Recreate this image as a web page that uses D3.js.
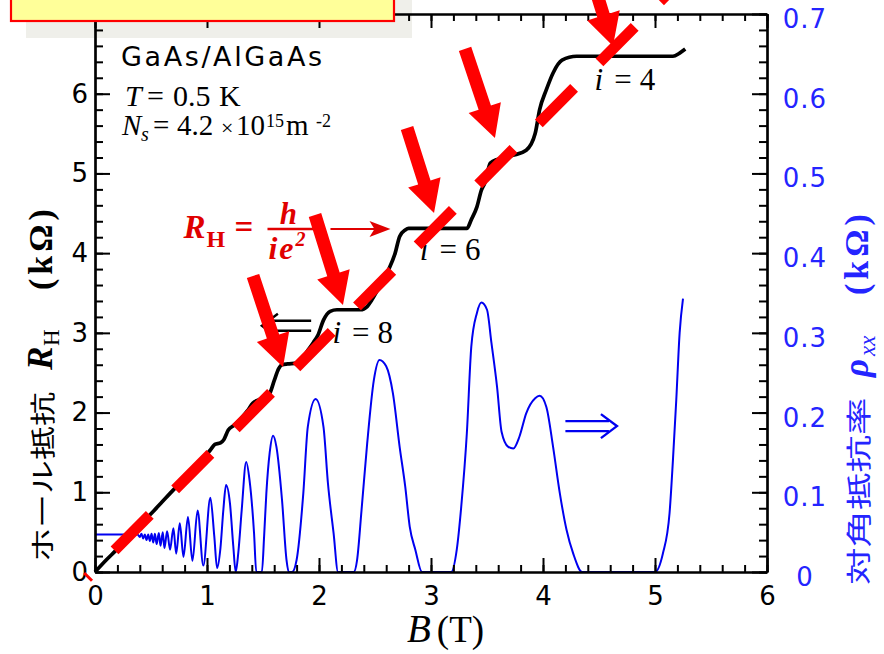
<!DOCTYPE html>
<html><head><meta charset="utf-8">
<script src="https://cdn.jsdelivr.net/npm/d3@7"></script>
<style>body{margin:0;background:#fff}svg{display:block}</style>
</head><body>
<svg id="chart" width="884" height="654"></svg>
<script>
// ---------- data ----------
const xTickValues = [0,1,2,3,4,5,6];
const xTickLabels = ["0","1","2","3","4","5","6"];
const leftTickValues = [0,1,2,3,4,5,6];
const leftTickLabels = ["0","1","2","3","4","5","6"];
const rightTickValues = [0,0.1,0.2,0.3,0.4,0.5,0.6,0.7];
const rightTickLabels = ["0","0.1","0.2","0.3","0.4","0.5","0.6","0.7"];

// Hall resistance R_H (kOhm) vs B (T)
const hallCurve = [[0,0],[0.1,0.15],[0.2,0.29],[0.3,0.44],[0.4,0.59],[0.5,0.73],[0.6,0.88],[0.7,1.03],[0.8,1.17],[0.9,1.32],[0.97,1.43],[1.03,1.53],[1.07,1.60],[1.12,1.62],[1.15,1.66],[1.19,1.78],[1.24,1.84],[1.3,1.92],[1.36,2.02],[1.41,2.12],[1.46,2.16],[1.52,2.19],[1.56,2.24],[1.6,2.40],[1.64,2.55],[1.67,2.60],[1.72,2.61],[1.8,2.62],[1.85,2.68],[1.9,2.78],[1.95,2.88],[1.99,2.97],[2.04,3.16],[2.1,3.27],[2.16,3.29],[2.37,3.29],[2.43,3.33],[2.47,3.41],[2.54,3.58],[2.62,3.79],[2.68,4.00],[2.72,4.21],[2.77,4.29],[2.8,4.31],[3.32,4.31],[3.36,4.42],[3.41,4.58],[3.45,4.79],[3.48,4.88],[3.53,5.13],[3.6,5.18],[3.74,5.23],[3.85,5.29],[3.93,5.50],[3.97,5.80],[4.03,6.05],[4.09,6.26],[4.17,6.42],[4.3,6.47],[5.16,6.47],[5.22,6.51],[5.27,6.56]];

// diagonal resistivity rho_xx (kOhm) vs B (T)
const rhoCurve = [[0,0.047],[0.38,0.047],[0.40,0.044],[0.415,0.048],[0.43,0.042],[0.445,0.047],[0.46,0.040],[0.475,0.047],[0.49,0.039],[0.505,0.048],[0.52,0.037],[0.535,0.048],[0.55,0.035],[0.57,0.049],[0.585,0.033],[0.605,0.050],[0.62,0.030],[0.644,0.051],[0.67,0.028],[0.70,0.055],[0.725,0.023],[0.757,0.061],[0.79,0.019],[0.83,0.069],[0.87,0.014],[0.916,0.077],[0.967,0.008],[1.03,0.093],[1.065,0.045],[1.09,0.005],[1.12,0.030],[1.146,0.078],[1.17,0.109],[1.205,0.086],[1.235,0.032],[1.256,0],[1.28,0.025],[1.31,0.078],[1.35,0.138],[1.38,0.115],[1.42,0.049],[1.44,0],[1.49,0],[1.51,0.045],[1.53,0.099],[1.56,0.150],[1.59,0.171],[1.62,0.157],[1.67,0.090],[1.71,0.015],[1.73,0],[1.76,0],[1.80,0.015],[1.86,0.099],[1.90,0.182],[1.97,0.217],[2.04,0.182],[2.08,0.111],[2.13,0.049],[2.17,0],[2.31,0],[2.34,0.015],[2.38,0.078],[2.43,0.161],[2.49,0.241],[2.54,0.266],[2.60,0.258],[2.66,0.224],[2.72,0.157],[2.77,0.107],[2.81,0.057],[2.86,0.028],[2.92,0],[3.18,0],[3.23,0.028],[3.27,0.082],[3.32,0.174],[3.36,0.283],[3.41,0.325],[3.45,0.338],[3.50,0.329],[3.54,0.287],[3.59,0.232],[3.63,0.176],[3.69,0.157],[3.735,0.155],[3.79,0.170],[3.85,0.199],[3.93,0.218],[3.97,0.221],[4.03,0.207],[4.09,0.157],[4.15,0.099],[4.21,0.053],[4.27,0.023],[4.35,0],[5.0,0],[5.07,0.023],[5.13,0.074],[5.16,0.14],[5.19,0.216],[5.22,0.30],[5.25,0.343]];

// red dashed guide line (B, R_H)
const redLine = [[-0.071,-0.075],[5.3,7.52]];
// red arrows: tail and tip (B, R_H)
const arrowTails = [[1.411,3.714],[1.964,4.479],[2.786,5.571],[3.304,6.562],[4.375,7.729]];
const arrowTips  = [[1.679,2.572],[2.214,3.350],[3.027,4.504],[3.571,5.445],[4.625,6.600]];
// filling-factor labels
const plateauLabels = [{i:"4",B:4.46,R:6.05},{i:"6",B:2.90,R:3.91},{i:"8",B:2.12,R:2.87}];

// ---------- setup ----------
const svg = d3.select("#chart");
const L=95, R=767, T=14, Bt=572;
const x = d3.scaleLinear().domain([0,6]).range([L,R]);
const yL = d3.scaleLinear().domain([0,7]).range([Bt,T]);
const yR = d3.scaleLinear().domain([0,0.7]).range([Bt,T]);
const BLUE="#0000f0", BLUE_T="#2424ff", RED="#ff0000";
const SANS="'DejaVu Sans', sans-serif", SERIF="'Liberation Serif','DejaVu Serif',serif", CJK="'Noto Sans CJK JP',sans-serif";

// background band from original slide
svg.append("rect").attr("x",26).attr("y",0).attr("width",386).attr("height",38).attr("fill","#efefea");

// ---------- curves ----------
const lineL = d3.line().x(d=>x(d[0])).y(d=>yL(d[1])).curve(d3.curveMonotoneX);
const lineR = d3.line().x(d=>x(d[0])).y(d=>yR(d[1])).curve(d3.curveMonotoneX);
svg.append("path").datum(rhoCurve).attr("d",lineR).attr("fill","none").attr("stroke",BLUE).attr("stroke-width",2);
svg.append("path").datum(hallCurve).attr("d",lineL).attr("fill","none").attr("stroke","#000").attr("stroke-width",3.7).attr("stroke-linejoin","round");

// ---------- axes ----------
function styleAxis(g){ g.selectAll("path.domain").attr("stroke","#000").attr("stroke-width",2.2);
  g.selectAll(".tick line").attr("stroke","#000").attr("stroke-width",2); }
const minorX = d3.range(0,6.001,0.2), minorY = d3.range(0,7.001,0.2), minorR = d3.range(0,0.7001,0.02);

let g = svg.append("g").attr("transform",`translate(0,${Bt})`).call(d3.axisBottom(x).tickValues(minorX).tickSize(-7).tickSizeOuter(0).tickFormat(""));
styleAxis(g);
g = svg.append("g").attr("transform",`translate(0,${Bt})`).call(d3.axisBottom(x).tickValues(xTickValues).tickSize(-14).tickSizeOuter(0).tickPadding(15).tickFormat((d,i)=>xTickLabels[i]));
styleAxis(g);
g.selectAll("text").attr("font-family",SANS).attr("font-size",26).attr("fill","#000");
g = svg.append("g").attr("transform",`translate(0,${T})`).call(d3.axisTop(x).tickValues(minorX).tickSize(-7).tickSizeOuter(0).tickFormat(""));
styleAxis(g);
g = svg.append("g").attr("transform",`translate(0,${T})`).call(d3.axisTop(x).tickValues(xTickValues).tickSize(-14).tickSizeOuter(0).tickFormat(""));
styleAxis(g);
g = svg.append("g").attr("transform",`translate(${L},0)`).call(d3.axisLeft(yL).tickValues(minorY).tickSize(-8).tickSizeOuter(0).tickFormat(""));
styleAxis(g);
g = svg.append("g").attr("transform",`translate(${L},0)`).call(d3.axisLeft(yL).tickValues(leftTickValues).tickSize(-15).tickSizeOuter(0).tickPadding(7).tickFormat((d,i)=>leftTickLabels[i]));
styleAxis(g);
g.selectAll("text").attr("font-family",SANS).attr("font-size",26).attr("fill","#000");
g = svg.append("g").attr("transform",`translate(${R},0)`).call(d3.axisRight(yR).tickValues(minorR).tickSize(-8).tickSizeOuter(0).tickFormat(""));
styleAxis(g);
g = svg.append("g").attr("transform",`translate(${R},0)`).call(d3.axisRight(yR).tickValues(rightTickValues).tickSize(-15).tickSizeOuter(0).tickPadding(38).tickFormat((d,i)=>rightTickLabels[i]));
styleAxis(g);
g.selectAll("text").attr("font-family",SANS).attr("font-size",26).attr("fill",BLUE_T).attr("text-anchor","middle").attr("letter-spacing",1).attr("dy","0.52em");

// ---------- axis titles ----------
const xt = svg.append("text").attr("x",407).attr("y",642).attr("font-family",SERIF).attr("font-size",37);
xt.append("tspan").attr("font-style","italic").attr("font-size",39).text("B");
xt.append("tspan").attr("dx",6).text("(T)");

function vTitle(xBase, yStart, color, cjk, sym, sub, subItalic, cfg){
  const gg = svg.append("g").attr("transform",`translate(${xBase},${yStart}) rotate(-90)`).attr("fill",color);
  gg.append("text").attr("transform",`scale(${cfg.cjkScale},1)`).attr("font-family",CJK).attr("font-size",25).text(cjk);
  gg.append("text").attr("x",cfg.symAt).attr("font-family",SERIF).attr("font-size",35).attr("font-style","italic").attr("font-weight","bold").text(sym);
  gg.append("text").attr("x",cfg.subAt).attr("y",7).attr("font-family",SERIF).attr("font-size",23).attr("font-style",subItalic?"italic":"normal").text(sub);
  gg.append("text").attr("x",cfg.unitAt).attr("font-family",SERIF).attr("font-size",34).attr("font-weight","bold").attr("letter-spacing",4).text("(kΩ)");
}
vTitle(52, 562, "#000", "ホール抵抗", "R", "H", false, {cjkScale:1.36, symAt:192, subAt:216, unitAt:272});
vTitle(868, 585, BLUE_T, "対角抵抗率", "ρ", "xx", true, {cjkScale:1.5, symAt:208, subAt:229, unitAt:290});

// ---------- info text ----------
svg.append("text").attr("x",121).attr("y",66).attr("font-family",SANS).attr("font-size",27).attr("letter-spacing",2.6).text("GaAs/AlGaAs");
const tT = svg.append("text").attr("y",106).attr("font-family",SERIF).attr("font-size",30);
tT.append("tspan").attr("x",125).attr("font-style","italic").text("T");
tT.append("tspan").attr("x",147).text("=");
tT.append("tspan").attr("x",173).text("0.5");
tT.append("tspan").attr("x",219).text("K");
const tN = svg.append("text").attr("y",135).attr("font-family",SERIF).attr("font-size",29);
tN.append("tspan").attr("x",122).attr("font-style","italic").text("N");
tN.append("tspan").attr("x",141).attr("dy",6).attr("font-size",20).attr("font-style","italic").text("s");
tN.append("tspan").attr("x",153).attr("dy",-6).text("=");
tN.append("tspan").attr("x",177).text("4.2");
tN.append("tspan").attr("x",221).attr("font-size",22).text("×");
tN.append("tspan").attr("x",236).text("10");
tN.append("tspan").attr("x",266).attr("dy",-8).attr("font-size",18).text("15");
tN.append("tspan").attr("x",286).attr("dy",8).text("m");
tN.append("tspan").attr("x",316).attr("dy",-8).attr("font-size",18).text("-2");

// ---------- plateau labels ----------
plateauLabels.forEach(p=>{
  const t = svg.append("text").attr("x",x(p.B)).attr("y",yL(p.R)).attr("font-family",SERIF).attr("font-size",31);
  t.append("tspan").attr("font-style","italic").text("i");
  t.append("tspan").attr("dx",11).text("=");
  t.append("tspan").attr("dx",8).text(p.i);
});

function doubleArrow(x1,x2,yc,dir,color){
  const gap=5, tipX = dir<0?x1:x2, baseX = dir<0?x1+16:x2-16;
  const p = d3.path();
  const lx1 = dir<0? x1+8 : x1, lx2 = dir<0? x2 : x2-8;
  p.moveTo(lx1,yc-gap); p.lineTo(lx2,yc-gap);
  p.moveTo(lx1,yc+gap); p.lineTo(lx2,yc+gap);
  p.moveTo(baseX,yc-12); p.lineTo(tipX,yc); p.lineTo(baseX,yc+12);
  svg.append("path").attr("d",p.toString()).attr("fill","none").attr("stroke",color).attr("stroke-width",2.4);
}
doubleArrow(x(1.49),x(1.93),yL(3.09),-1,"#000");
doubleArrow(x(4.2),x(4.66),yL(1.83),1,BLUE);

// ---------- red formula ----------
const fx = x(0.79), fy = yL(4.19), FR="#e00000";
svg.append("text").attr("x",fx).attr("y",fy).attr("font-family",SERIF).attr("font-size",33).attr("font-weight","bold").attr("font-style","italic").attr("fill",FR).text("R");
svg.append("text").attr("x",fx+23).attr("y",fy+9).attr("font-family",SERIF).attr("font-size",24).attr("font-weight","bold").attr("fill",FR).text("H");
svg.append("text").attr("x",fx+51).attr("y",fy).attr("font-family",SERIF).attr("font-size",33).attr("font-weight","bold").attr("fill",FR).text("=");
svg.append("text").attr("x",fx+105).attr("y",fy-14).attr("text-anchor","middle").attr("font-family",SERIF).attr("font-size",31).attr("font-weight","bold").attr("font-style","italic").attr("fill",FR).text("h");
svg.append("line").attr("x1",fx+84).attr("x2",fx+134).attr("y1",fy-9).attr("y2",fy-9).attr("stroke",FR).attr("stroke-width",2.5);
const den = svg.append("text").attr("x",fx+85).attr("y",fy+21).attr("font-family",SERIF).attr("font-size",32).attr("font-weight","bold").attr("font-style","italic").attr("fill",FR).attr("letter-spacing",2);
den.append("tspan").text("ie");
den.append("tspan").attr("dy",-13).attr("font-size",20).text("2");
const ap = d3.path(); ap.moveTo(fx+147,fy-9); ap.lineTo(fx+195,fy-9);
svg.append("path").attr("d",ap.toString()).attr("stroke",FR).attr("stroke-width",2.2);
const ah = d3.path(); ah.moveTo(fx+207,fy-9); ah.lineTo(fx+186,fy-17); ah.lineTo(fx+191,fy-9); ah.lineTo(fx+186,fy-1); ah.closePath();
svg.append("path").attr("d",ah.toString()).attr("fill",FR);

// ---------- red dashed line ----------
svg.append("path").datum(redLine).attr("d",d3.line().x(d=>x(d[0])).y(d=>yL(d[1])))
  .attr("stroke",RED).attr("stroke-width",11).attr("stroke-dasharray","50 36").attr("stroke-dashoffset",47).attr("fill","none");

// ---------- red arrows ----------
arrowTails.forEach((t,i)=>{
  const x0=x(t[0]), y0=yL(t[1]), x1=x(arrowTips[i][0]), y1=yL(arrowTips[i][1]);
  const dx=x1-x0, dy=y1-y0, len=Math.hypot(dx,dy), ux=dx/len, uy=dy/len, px=-uy, py=ux;
  const sw=6.5, hw=17, hl=32;
  const bx=x1-ux*hl, by=y1-uy*hl;
  const pts=[[x0+px*sw,y0+py*sw],[bx+px*sw,by+py*sw],[bx+px*hw,by+py*hw],[x1,y1],[bx-px*hw,by-py*hw],[bx-px*sw,by-py*sw],[x0-px*sw,y0-py*sw]];
  svg.append("path").attr("d","M"+pts.map(p=>p.join(",")).join("L")+"Z").attr("fill",RED);
});

// ---------- yellow box overlay ----------
svg.append("rect").attr("x",11).attr("y",-4).attr("width",383).attr("height",25).attr("fill","#ffff99").attr("stroke",RED).attr("stroke-width",2.2);
</script>
</body></html>
